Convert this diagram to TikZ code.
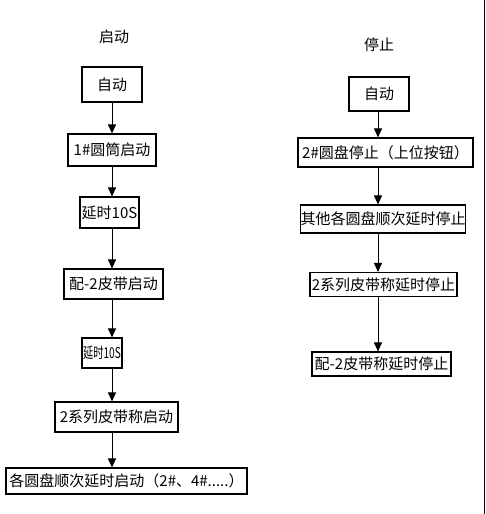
\documentclass[tikz,border=0pt]{standalone}
\usepackage{fontspec}
\usepackage{graphicx}
\newfontfamily\cjk{Noto Sans CJK SC}
\usetikzlibrary{arrows.meta}

\begin{document}
\begin{tikzpicture}[
  x=1pt, y=-1pt,
  >={Triangle[width=8pt,length=9pt]},
  box/.style={draw, line width=1.1pt, inner sep=0pt, font=\cjk\fontsize{15}{17}\selectfont,
              minimum height=30pt},
  ttl/.style={font=\cjk\fontsize{15}{17}\selectfont, inner sep=1pt},
  e/.style={->, draw, line width=0.9pt}
]
\useasboundingbox (0,0) rectangle (486,514);

% start column
\node[ttl] (tstart) at (114,37) {启动};
\node[box, minimum width=60pt, minimum height=35pt] (a1) at (112,84.5) {自动};
\node[box, minimum width=88pt, minimum height=32pt] (a2) at (112,150) {1\#圆筒启动};
\node[box, minimum width=59pt, minimum height=31pt] (a3) at (109.5,212.5) {延时10S};
\node[box, minimum width=99pt] (a4) at (113.5,284) {配-2皮带启动};
\node[box, minimum width=40pt] (a5) at (102,353) {\scalebox{0.68}[1]{延时10S}};
\node[box, minimum width=123pt] (a6) at (116.5,417) {2系列皮带称启动};
\node[box, minimum width=241pt, minimum height=26pt] (a7) at (126.5,481)
  {各圆盘顺次延时启动（2\#、4\#.....）};

% stop column
\node[ttl] (tstop) at (379,45) {停止};
\node[box, minimum width=60pt, minimum height=34pt] (b1) at (379,94) {自动};
\node[box, minimum width=175pt, minimum height=29pt] (b2) at (385.5,152.5) {2\#圆盘停止（上位按钮）};
\node[box, minimum width=164pt, minimum height=28pt] (b3) at (383,219) {其他各圆盘顺次延时停止};
\node[box, minimum width=147pt, minimum height=24pt] (b4) at (383.5,284.5) {2系列皮带称延时停止};
\node[box, minimum width=139pt, minimum height=24pt] (b5) at (381.5,364) {配-2皮带称延时停止};

% arrow columns
\coordinate (lx) at (112,0);
\coordinate (rx) at (378,0);
\foreach \p/\q in {a1/a2,a2/a3,a3/a4,a4/a5,a5/a6,a6/a7}
  \draw[e] (\p.south -| lx) -- (\q.north -| lx);
\foreach \p/\q in {b1/b2,b2/b3,b3/b4,b4/b5}
  \draw[e] (\p.south -| rx) -- (\q.north -| rx);

% right edge line
\draw[line width=1.2pt] (484.5,0) -- (484.5,514);
\end{tikzpicture}
\end{document}
